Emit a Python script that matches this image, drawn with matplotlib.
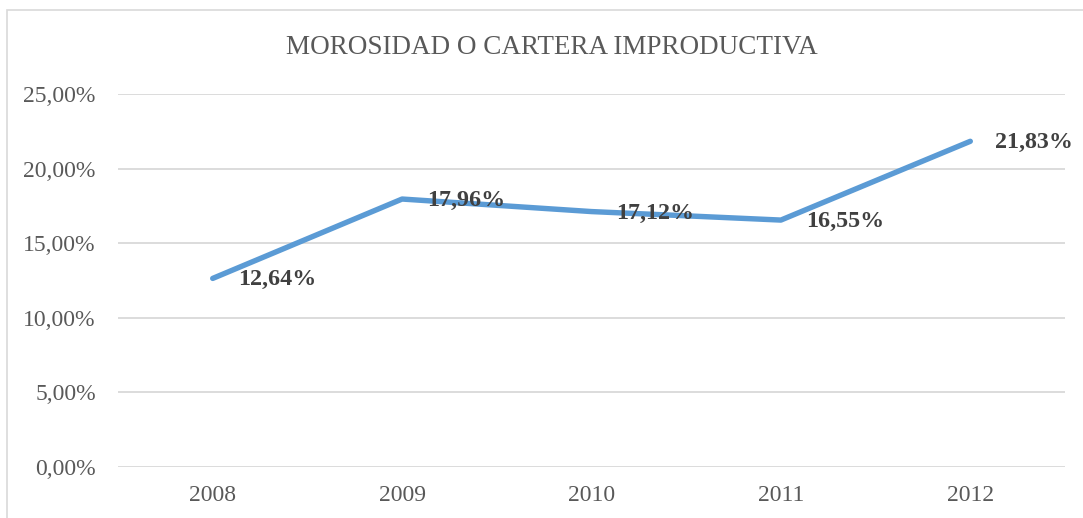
import matplotlib
matplotlib.use("Agg")
import matplotlib.pyplot as plt
from matplotlib.patches import Rectangle
from matplotlib.ticker import FuncFormatter

# datos
YEARS = ["2008", "2009", "2010", "2011", "2012"]
MOROSIDAD = [0.1264, 0.1796, 0.1712, 0.1655, 0.2183]
LABELS = ["12,64%", "17,96%", "17,12%", "16,55%", "21,83%"]

SERIF = ["Liberation Serif", "DejaVu Serif"]
BLUE = "#5B9BD5"
GRID = "#D9D9D9"
TXT = "#595959"

W, H = 1083, 518
fig = plt.figure(figsize=(W / 100, H / 100), dpi=100)
fig.patch.set_facecolor("white")

# marco del gráfico (borde izq. y sup. visibles)
fig.add_artist(Rectangle((7 / W, -0.2), 1.2, 1.2 - 10 / H, transform=fig.transFigure,
                         facecolor="none", edgecolor=GRID, linewidth=1.2))

ax = fig.add_axes([118 / W, 1 - 467 / H, (1065 - 118) / W, (467 - 94) / H])
x = range(len(YEARS))
ax.plot(x, MOROSIDAD, color=BLUE, linewidth=3.9, solid_capstyle="round",
        solid_joinstyle="round", zorder=3)

for xi, v, s in zip(x, MOROSIDAD, LABELS):
    ax.annotate(s, (xi, v), xytext=(18, -1), textcoords="offset points",
                ha="left", va="center", fontsize=17.3, fontweight="bold",
                color="#404040", family=SERIF, zorder=4)

ax.set_xlim(-0.5, len(YEARS) - 0.5)
ax.set_ylim(0, 0.25)
ax.set_yticks([0, 0.05, 0.10, 0.15, 0.20, 0.25])
ax.yaxis.set_major_formatter(FuncFormatter(lambda v, p: f"{v * 100:.2f}%".replace(".", ",")))
ax.set_xticks(list(x))
ax.set_xticklabels(YEARS)
ax.grid(axis="y", color=GRID, linewidth=1.3)
ax.set_axisbelow(True)
for sp in ax.spines.values():
    sp.set_visible(False)
ax.tick_params(axis="both", length=0, labelsize=17, labelcolor=TXT)
ax.tick_params(axis="y", pad=16)
ax.tick_params(axis="x", pad=13)
for lab in ax.get_xticklabels() + ax.get_yticklabels():
    lab.set_family(SERIF)

fig.text(552 / W, 1 - 47 / H, "MOROSIDAD O CARTERA IMPRODUCTIVA", ha="center",
         va="center", fontsize=19.5, color=TXT, family=SERIF)

fig.savefig("out.png", dpi=100, facecolor="white")
